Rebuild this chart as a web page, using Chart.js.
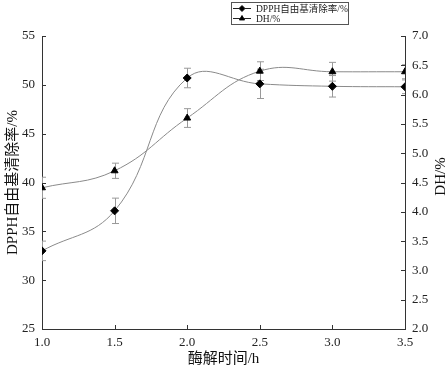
<!DOCTYPE html>
<html>
<head>
<meta charset="utf-8">
<script src="https://cdn.jsdelivr.net/npm/chart.js@4"></script>
<style>
    html, body { margin: 0; padding: 0; background: #fff; }
</style>
</head>
<body>
<canvas id="chart" width="448" height="369"></canvas>
<script>
// data
const hours = [1.0, 1.5, 2.0, 2.5, 3.0, 3.5];
const dpph = [33.0, 37.1, 50.7, 50.1, 49.85, 49.8];
const dpphErr = [1.0, 1.3, 1.0, 1.5, 1.1, 0.7];
const dh = [4.41, 4.70, 5.60, 6.40, 6.39, 6.39];
const dhErr = [0.18, 0.13, 0.16, 0.16, 0.16, 0.12];
const seriesNames = ['DPPH自由基清除率/%', 'DH/%'];
const errors = [dpphErr, dhErr];

const serif = "'Liberation Serif', 'Noto Sans CJK SC', serif";
const lineGrey = '#8a8a8a';
const axisColor = '#333';

// error bars, drawn under the markers
const errorBarPlugin = {
    id: 'errorBars',
    beforeDatasetsDraw(chart) {
        const ctx = chart.ctx;
        const area = chart.chartArea;
        ctx.save();
        ctx.beginPath();
        ctx.rect(area.left, area.top, area.right - area.left, area.bottom - area.top);
        ctx.clip();
        ctx.strokeStyle = '#999';
        ctx.lineWidth = 1;
        chart.data.datasets.forEach((ds, i) => {
            const xs = chart.scales.x;
            const ys = chart.scales[ds.yAxisID];
            ds.data.forEach((p, j) => {
                const x = Math.round(xs.getPixelForValue(p.x)) + 0.5;
                const top = ys.getPixelForValue(p.y + errors[i][j]);
                const bot = ys.getPixelForValue(p.y - errors[i][j]);
                ctx.beginPath();
                ctx.moveTo(x, top); ctx.lineTo(x, bot);
                ctx.moveTo(x - 3.5, top); ctx.lineTo(x + 3.5, top);
                ctx.moveTo(x - 3.5, bot); ctx.lineTo(x + 3.5, bot);
                ctx.stroke();
            });
        });
        ctx.restore();
    }
};

// tick marks pointing into the plot, plus the right axis title (reads upward)
const innerTicksPlugin = {
    id: 'innerTicks',
    afterDraw(chart) {
        const ctx = chart.ctx;
        const area = chart.chartArea;
        ctx.save();
        ctx.strokeStyle = axisColor;
        ctx.lineWidth = 1;
        ctx.beginPath();
        const len = 4;
        chart.scales.x.ticks.forEach((t, i) => {
            const px = Math.round(chart.scales.x.getPixelForTick(i)) + 0.5;
            ctx.moveTo(px, area.bottom); ctx.lineTo(px, area.bottom - len);
        });
        chart.scales.y.ticks.forEach((t, i) => {
            const py = Math.round(chart.scales.y.getPixelForTick(i)) + 0.5;
            ctx.moveTo(area.left, py); ctx.lineTo(area.left + len, py);
        });
        chart.scales.y1.ticks.forEach((t, i) => {
            const py = Math.round(chart.scales.y1.getPixelForTick(i)) + 0.5;
            ctx.moveTo(area.right, py); ctx.lineTo(area.right - len, py);
        });
        ctx.stroke();

        ctx.translate(chart.scales.y1.right - 7, (area.top + area.bottom) / 2 - 6);
        ctx.rotate(-Math.PI / 2);
        ctx.fillStyle = '#111';
        ctx.font = "15px " + serif;
        ctx.textAlign = 'center';
        ctx.textBaseline = 'middle';
        ctx.fillText(seriesNames[1], 0, 0);
        ctx.restore();
    }
};

// boxed legend with line + marker samples
const boxLegendPlugin = {
    id: 'boxLegend',
    afterDraw(chart) {
        const ctx = chart.ctx;
        const bx = 231, by = 2, bw = 117, bh = 22;
        ctx.save();
        ctx.fillStyle = '#fff';
        ctx.fillRect(bx, by, bw, bh);
        ctx.strokeStyle = '#555';
        ctx.lineWidth = 1;
        ctx.strokeRect(bx + 0.5, by + 0.5, bw, bh);
        chart.data.datasets.forEach((ds, i) => {
            const y = by + 6 + i * 10;
            ctx.strokeStyle = '#222';
            ctx.beginPath();
            ctx.moveTo(bx + 2, y + 0.5); ctx.lineTo(bx + 20, y + 0.5);
            ctx.stroke();
            Chart.helpers.drawPoint(ctx, {
                pointStyle: ds.pointStyle, radius: 3, borderWidth: 1, rotation: 0
            }, bx + 11, y + 0.5);
            ctx.fillStyle = '#000';
            ctx.fill();
            ctx.fillStyle = '#222';
            ctx.font = "9.5px " + serif;
            ctx.textBaseline = 'middle';
            ctx.fillText(ds.label, bx + 25, y + 1);
        });
        ctx.restore();
    }
};

new Chart(document.getElementById('chart'), {
    type: 'line',
    data: {
        datasets: [
            {
                label: seriesNames[0],
                data: hours.map((h, i) => ({ x: h, y: dpph[i] })),
                yAxisID: 'y',
                borderColor: lineGrey,
                borderWidth: 1,
                tension: 0.42,
                fill: false,
                pointStyle: 'rectRot',
                pointRadius: 4,
                pointBackgroundColor: '#000',
                pointBorderColor: '#000',
                pointBorderWidth: 1
            },
            {
                label: seriesNames[1],
                data: hours.map((h, i) => ({ x: h, y: dh[i] })),
                yAxisID: 'y1',
                borderColor: lineGrey,
                borderWidth: 1,
                tension: 0.42,
                fill: false,
                pointStyle: 'triangle',
                pointRadius: 4,
                pointBackgroundColor: '#000',
                pointBorderColor: '#000',
                pointBorderWidth: 1
            }
        ]
    },
    options: {
        responsive: false,
        animation: false,
        layout: { padding: { top: 36, left: 0, right: 0, bottom: 0 } },
        plugins: {
            legend: { display: false },
            tooltip: { enabled: false }
        },
        scales: {
            x: {
                type: 'linear',
                min: 1.0,
                max: 3.5,
                grid: { display: false, drawTicks: false },
                border: { display: true, color: axisColor, width: 1 },
                ticks: {
                    stepSize: 0.5,
                    padding: 6,
                    color: '#222',
                    font: { family: serif, size: 13 },
                    callback: v => v.toFixed(1)
                },
                title: {
                    display: true,
                    text: '酶解时间/h',
                    color: '#111',
                    font: { family: serif, size: 15 },
                    padding: { top: 0, bottom: 1 }
                },
                afterFit: s => { s.height = 40; }
            },
            y: {
                position: 'left',
                min: 25,
                max: 55,
                grid: { display: false, drawTicks: false },
                border: { display: true, color: axisColor, width: 1 },
                ticks: {
                    stepSize: 5,
                    padding: 7,
                    color: '#222',
                    font: { family: serif, size: 13 }
                },
                title: {
                    display: true,
                    text: seriesNames[0],
                    color: '#111',
                    font: { family: serif, size: 15 },
                    padding: { top: 4, bottom: 0 }
                },
                afterFit: s => { s.width = 42; }
            },
            y1: {
                position: 'right',
                min: 2.0,
                max: 7.0,
                grid: { display: false, drawTicks: false },
                border: { display: true, color: axisColor, width: 1 },
                ticks: {
                    stepSize: 0.5,
                    padding: 7,
                    color: '#222',
                    font: { family: serif, size: 13 },
                    callback: v => v.toFixed(1)
                },
                afterFit: s => { s.width = 43; }
            }
        }
    },
    plugins: [errorBarPlugin, innerTicksPlugin, boxLegendPlugin]
});
</script>
</body>
</html>
